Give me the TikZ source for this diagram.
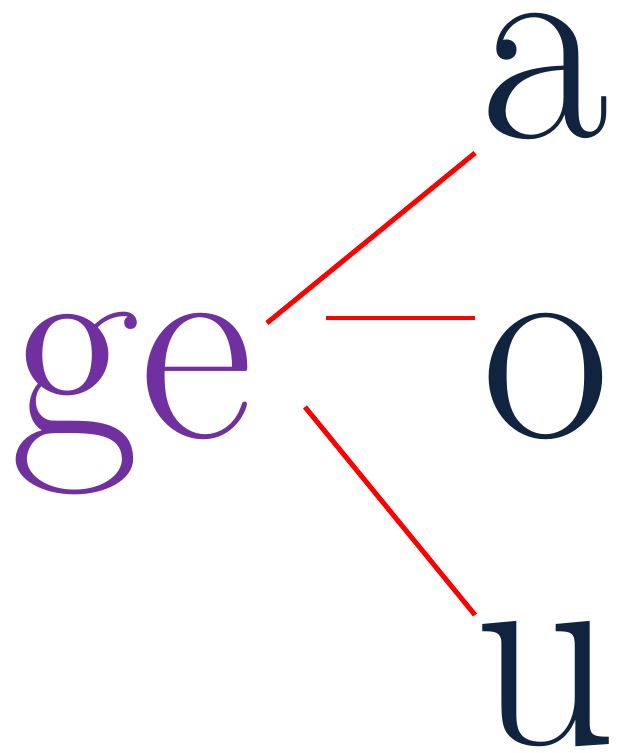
\documentclass[tikz,border=0pt]{standalone}
\usepackage{xcolor}
\usetikzlibrary{positioning}

\definecolor{stempurple}{HTML}{7030A0}
\definecolor{vowelnavy}{HTML}{10243F}

\begin{document}
\begin{tikzpicture}[
			every node/.style={inner sep=0pt, anchor=base,
				font=\fontsize{80}{80}\selectfont},
			stem/.style={text=stempurple},
			vowel/.style={text=vowelnavy},
			link/.style={draw=red, line width=1.4pt}
			]
			\useasboundingbox (0,0) rectangle (6.19,7.53);
			
			% ---- Stem ----
			\node[stem] (ge) at (1.32,3.15) {ge};
			
			% ---- Vowels ----
			\node[vowel] (a) at (5.45,6.15) {a};
			\node[vowel] (o) at (5.46,3.15) {o};
			\node[vowel] (u) at (5.45,0.08) {u};
			
			% ---- Line ends ----
			\coordinate (ge-a) at (2.67,4.30);
			\coordinate (ge-o) at (3.26,4.35);
			\coordinate (ge-u) at (3.05,3.46);
			\coordinate (a-in) at (4.75,6.00);
			\coordinate (o-in) at (4.75,4.35);
			\coordinate (u-in) at (4.75,1.38);
			
			% ---- Links ----
			\draw[link] (ge-a) -- (a-in);
			\draw[link] (ge-o) -- (o-in);
			\draw[link] (ge-u) -- (u-in);
			
		\end{tikzpicture}
\end{document}
